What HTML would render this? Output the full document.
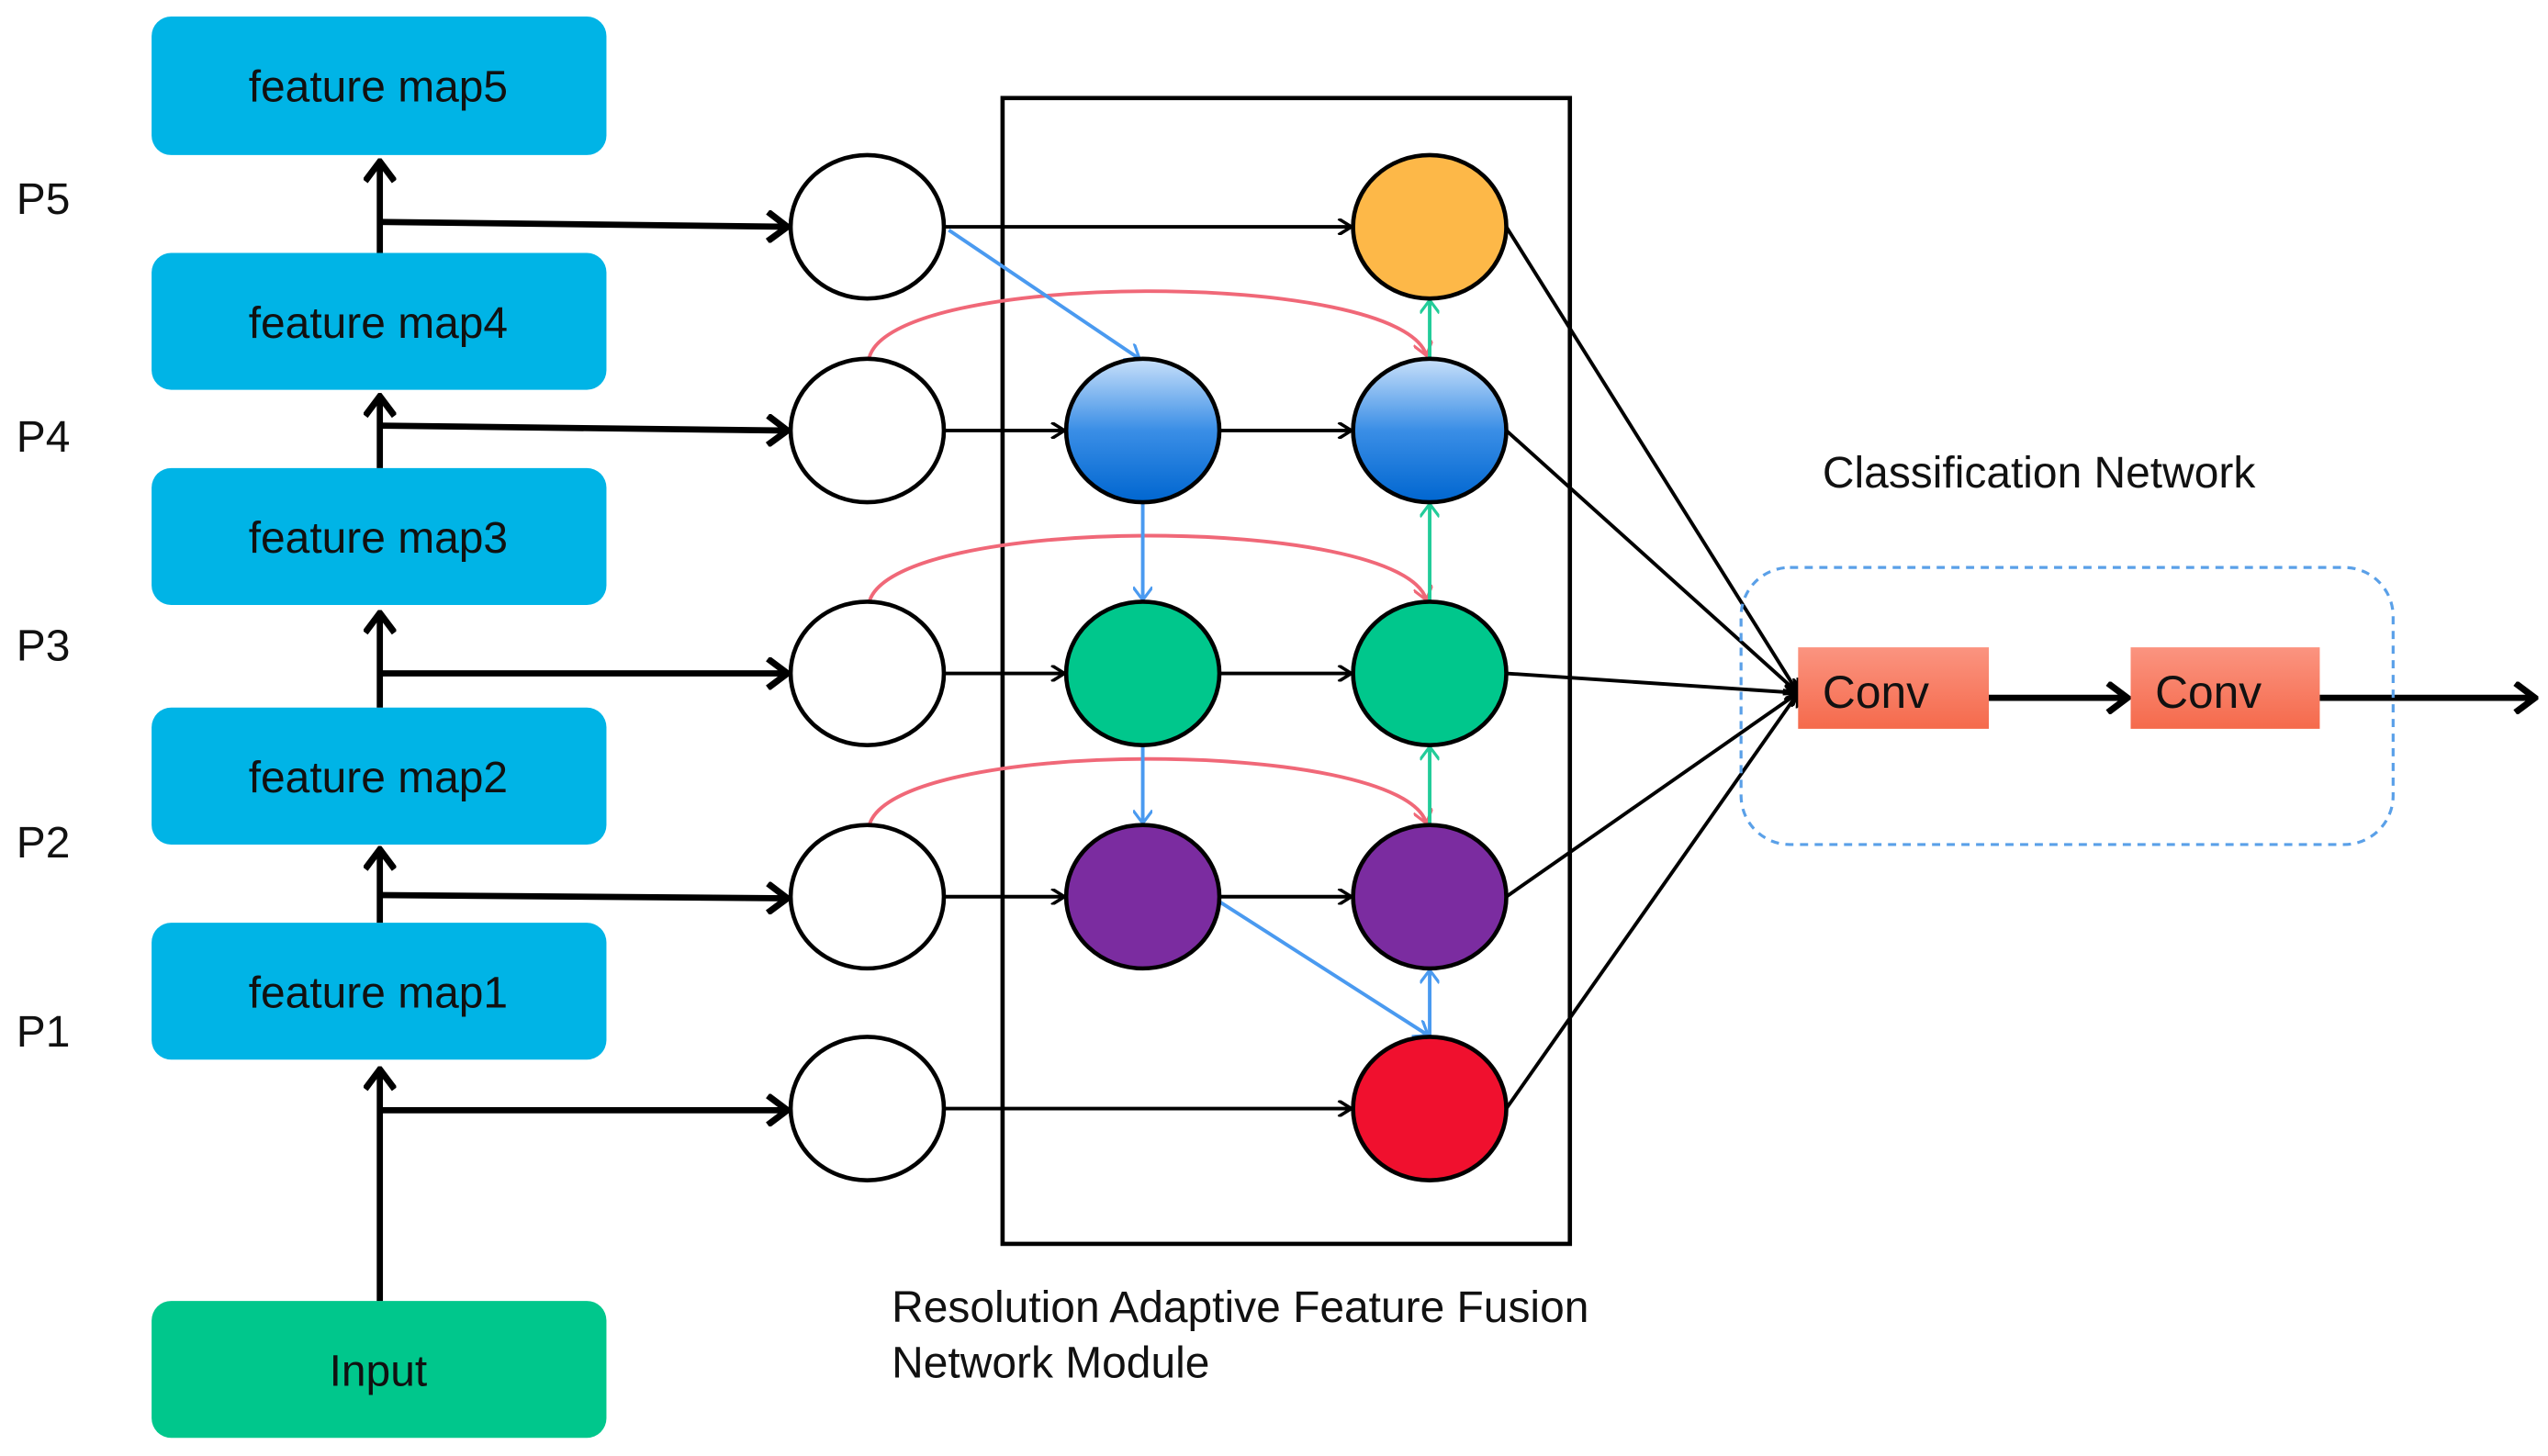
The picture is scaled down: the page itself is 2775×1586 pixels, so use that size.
<!DOCTYPE html>
<html><head><meta charset="utf-8"><style>html,body{margin:0;padding:0;background:#fff}svg{display:block}text{font-family:"Liberation Sans",Arial,sans-serif}</style></head>
<body>
<svg width="2775" height="1586" viewBox="0 0 1563 893" xmlns="http://www.w3.org/2000/svg" style="font-family:'Liberation Sans',Arial,sans-serif">
<defs>
<linearGradient id="bl" x1="0" y1="0" x2="0" y2="1"><stop offset="0" stop-color="#c8e0fa"/><stop offset="0.5" stop-color="#3a8ee6"/><stop offset="1" stop-color="#0066d0"/></linearGradient>
<linearGradient id="cv" x1="0" y1="0" x2="0" y2="1"><stop offset="0" stop-color="#fb9480"/><stop offset="1" stop-color="#f56a4c"/></linearGradient>
<marker id="ab" markerWidth="10" markerHeight="10" refX="9" refY="5" orient="auto" markerUnits="userSpaceOnUse"><path d="M1,0 L9,5 L1,10" fill="none" stroke="#000" stroke-width="2"/></marker>
<marker id="abT" markerWidth="16" markerHeight="20" refX="14" refY="10" orient="auto" markerUnits="userSpaceOnUse"><path d="M2,1 L14,10 L2,19" fill="none" stroke="#000" stroke-width="4"/></marker>
<marker id="abl" markerWidth="10" markerHeight="12" refX="9" refY="6" orient="auto" markerUnits="userSpaceOnUse"><path d="M1,0 L9,6 L1,12" fill="none" stroke="#4a9af0" stroke-width="1.8"/></marker>
<marker id="agr" markerWidth="10" markerHeight="12" refX="9" refY="6" orient="auto" markerUnits="userSpaceOnUse"><path d="M1,0 L9,6 L1,12" fill="none" stroke="#22cc99" stroke-width="1.8"/></marker>
<marker id="apk" markerWidth="10" markerHeight="12" refX="9" refY="6" orient="auto" markerUnits="userSpaceOnUse"><path d="M1,0 L9,6 L1,12" fill="none" stroke="#f06878" stroke-width="1.8"/></marker>
</defs>
<g fill="#00b4e6">
<rect x="93" y="10" width="279" height="85" rx="12"/>
<rect x="93" y="155" width="279" height="84" rx="12"/>
<rect x="93" y="287" width="279" height="84" rx="12"/>
<rect x="93" y="434" width="279" height="84" rx="12"/>
<rect x="93" y="566" width="279" height="84" rx="12"/>
</g>
<rect x="93" y="798" width="279" height="84" rx="12" fill="#00c78c"/>
<g font-size="27" text-anchor="middle" fill="#111">
<text x="232" y="62">feature map5</text>
<text x="232" y="207">feature map4</text>
<text x="232" y="339">feature map3</text>
<text x="232" y="486">feature map2</text>
<text x="232" y="618">feature map1</text>
<text x="232" y="850">Input</text>
</g>
<g font-size="27" fill="#111">
<text x="10" y="131">P5</text><text x="10" y="277">P4</text><text x="10" y="405">P3</text><text x="10" y="526">P2</text><text x="10" y="642">P1</text>
</g>
<g stroke="#000" stroke-width="3.8" fill="none" marker-end="url(#abT)">
<line x1="233" y1="798" x2="233" y2="656"/>
<line x1="233" y1="566" x2="233" y2="521"/>
<line x1="233" y1="434" x2="233" y2="376"/>
<line x1="233" y1="287" x2="233" y2="243"/>
<line x1="233" y1="155" x2="233" y2="99"/>
<line x1="233" y1="136" x2="483" y2="139"/>
<line x1="233" y1="261" x2="483" y2="264"/>
<line x1="233" y1="413" x2="483" y2="413"/>
<line x1="233" y1="549" x2="483" y2="551"/>
<line x1="233" y1="681" x2="483" y2="681"/>
<line x1="1220" y1="428" x2="1305" y2="428"/>
<line x1="1423" y1="428" x2="1555" y2="428"/>
</g>
<rect x="615" y="60" width="348" height="703" fill="none" stroke="#000" stroke-width="2.6"/>
<g fill="none" stroke="#f06878" stroke-width="2.2" marker-end="url(#apk)">
<path d="M533,220 C545,165 860,165 875,218"/>
<path d="M533,370 C545,315 860,315 875,368"/>
<path d="M533,507 C545,452 860,452 875,505"/>
</g>
<g stroke="#000" stroke-width="2.2" fill="none" marker-end="url(#ab)">
<line x1="580" y1="139" x2="829" y2="139"/>
<line x1="580" y1="264" x2="653" y2="264"/>
<line x1="580" y1="413" x2="653" y2="413"/>
<line x1="580" y1="550" x2="653" y2="550"/>
<line x1="580" y1="680" x2="829" y2="680"/>
<line x1="748" y1="264" x2="829" y2="264"/>
<line x1="748" y1="413" x2="829" y2="413"/>
<line x1="748" y1="550" x2="829" y2="550"/>
<line x1="924" y1="139" x2="1103" y2="425"/>
<line x1="924" y1="264" x2="1103" y2="425"/>
<line x1="924" y1="413" x2="1103" y2="425"/>
<line x1="924" y1="550" x2="1103" y2="425"/>
<line x1="924" y1="680" x2="1103" y2="425"/>
</g>
<g stroke="#4a9af0" stroke-width="2.2" fill="none" marker-end="url(#abl)">
<line x1="582" y1="141" x2="699" y2="220"/>
<line x1="701" y1="308" x2="701" y2="368"/>
<line x1="701" y1="458" x2="701" y2="505"/>
<line x1="748" y1="553" x2="876" y2="635"/>
<line x1="877" y1="635" x2="877" y2="595"/>
</g>
<g stroke="#22cc99" stroke-width="2.2" fill="none" marker-end="url(#agr)">
<line x1="877" y1="220" x2="877" y2="184"/>
<line x1="877" y1="368" x2="877" y2="309"/>
<line x1="877" y1="505" x2="877" y2="458"/>
</g>
<g stroke="#000" stroke-width="2.6" fill="#fff">
<ellipse cx="532" cy="139" rx="47" ry="44"/>
<ellipse cx="532" cy="264" rx="47" ry="44"/>
<ellipse cx="532" cy="413" rx="47" ry="44"/>
<ellipse cx="532" cy="550" rx="47" ry="44"/>
<ellipse cx="532" cy="680" rx="47" ry="44"/>
<ellipse cx="701" cy="264" rx="47" ry="44" fill="url(#bl)"/>
<ellipse cx="701" cy="413" rx="47" ry="44" fill="#00c78c"/>
<ellipse cx="701" cy="550" rx="47" ry="44" fill="#7b2ca0"/>
<ellipse cx="877" cy="139" rx="47" ry="44" fill="#fdb848"/>
<ellipse cx="877" cy="264" rx="47" ry="44" fill="url(#bl)"/>
<ellipse cx="877" cy="413" rx="47" ry="44" fill="#00c78c"/>
<ellipse cx="877" cy="550" rx="47" ry="44" fill="#7b2ca0"/>
<ellipse cx="877" cy="680" rx="47" ry="44" fill="#f0102e"/>
</g>
<rect x="1068" y="348" width="400" height="170" rx="30" fill="none" stroke="#5aa0e8" stroke-width="1.8" stroke-dasharray="5,4"/>
<rect x="1103" y="397" width="117" height="50" fill="url(#cv)"/>
<rect x="1307" y="397" width="116" height="50" fill="url(#cv)"/>
<g font-size="28" fill="#111">
<text x="1118" y="434">Conv</text>
<text x="1322" y="434">Conv</text>
</g>
<g font-size="27" fill="#111">
<text x="1118" y="299">Classification Network</text>
<text x="547" y="811">Resolution Adaptive Feature Fusion</text>
<text x="547" y="845">Network Module</text>
</g>
</svg>
</body></html>
